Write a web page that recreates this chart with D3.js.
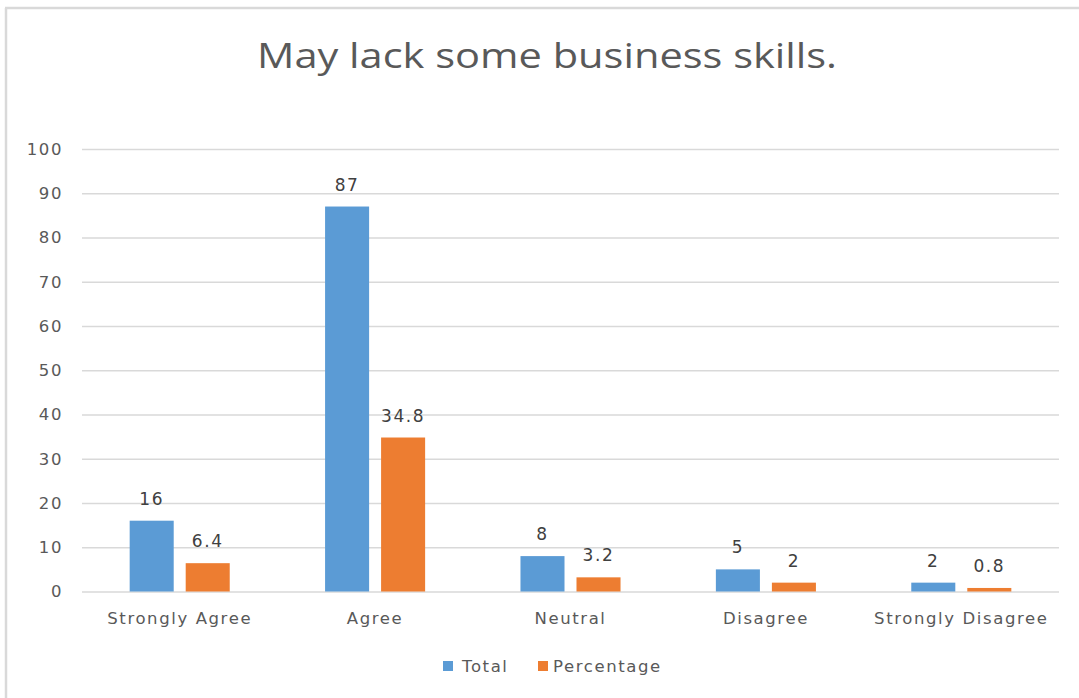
<!DOCTYPE html>
<html>
<head>
<meta charset="utf-8">
<script src="https://cdn.jsdelivr.net/npm/d3@7/dist/d3.min.js"></script>
<style>
  html, body { margin: 0; padding: 0; background: #fff; }
  svg { display: block; }
  text.lbl { font-family: "DejaVu Sans", "Noto Sans", sans-serif; letter-spacing: 1.6px; }
</style>
</head>
<body>
<svg id="chart" width="1079" height="698"></svg>
<script>
// Survey responses: "May lack some business skills."
const categories = ["Strongly Agree", "Agree", "Neutral", "Disagree", "Strongly Disagree"];
const seriesNames = ["Total", "Percentage"];
const totalValues = [16, 87, 8, 5, 2];
const percentValues = [6.4, 34.8, 3.2, 2, 0.8];
const yTicks = [0, 10, 20, 30, 40, 50, 60, 70, 80, 90, 100];
const titleText = "May lack some business skills.";

const colors = { Total: "#5B9BD5", Percentage: "#ED7D31" };
const valuesBySeries = { Total: totalValues, Percentage: percentValues };

const svg = d3.select("#chart");
const W = 1079, H = 698;

// Chart frame (left and top edges visible)
svg.append("rect").attr("x", 0).attr("y", 0).attr("width", W).attr("height", H).attr("fill", "#fff");
svg.append("line").attr("x1", 6).attr("x2", 6).attr("y1", 8).attr("y2", H)
  .attr("stroke", "#D9D9D9").attr("stroke-width", 2.5);
svg.append("line").attr("x1", 5).attr("x2", W).attr("y1", 8).attr("y2", 8)
  .attr("stroke", "#D9D9D9").attr("stroke-width", 2.5);

const plot = { left: 82, right: 1059, top: 149, bottom: 591.5 };

const x = d3.scaleBand().domain(categories).range([plot.left, plot.right]).paddingInner(0).paddingOuter(0);
const xs = d3.scaleBand().domain(seriesNames).range([0, x.bandwidth()]).paddingInner(0.214).paddingOuter(0.851);
const y = d3.scaleLinear().domain([0, 100]).range([plot.bottom, plot.top]);

// Title
svg.append("text")
  .attr("x", 547).attr("y", 68)
  .attr("text-anchor", "middle")
  .attr("font-size", 35)
  .attr("fill", "#595959")
  .style("font-family", "'Open Sans', 'Noto Sans', sans-serif")
  .attr("textLength", 580)
  .attr("lengthAdjust", "spacingAndGlyphs")
  .text(titleText);

// Horizontal gridlines and y tick labels
const yAxis = d3.axisLeft(y).tickValues(yTicks).tickSize(-(plot.right - plot.left)).tickPadding(19);
const gy = svg.append("g").attr("transform", `translate(${plot.left},0)`).call(yAxis);
gy.select(".domain").remove();
gy.selectAll(".tick line").attr("stroke", "#D9D9D9").attr("stroke-width", 1.5);
gy.selectAll(".tick text")
  .attr("class", "lbl")
  .attr("font-size", 16.5).attr("fill", "#595959")
  .style("font-family", "'DejaVu Sans', 'Noto Sans', sans-serif");

// Category axis labels
const xAxis = d3.axisBottom(x).tickSize(0).tickPadding(21);
const gx = svg.append("g").attr("transform", `translate(0,${plot.bottom})`).call(xAxis);
gx.select(".domain").remove();
gx.selectAll(".tick text")
  .attr("class", "lbl")
  .attr("font-size", 16.5).attr("fill", "#595959")
  .style("font-family", "'DejaVu Sans', 'Noto Sans', sans-serif");

// Bars
const rows = categories.map((c, i) => ({
  category: c,
  values: seriesNames.map(s => ({ series: s, value: valuesBySeries[s][i] }))
}));

const groups = svg.append("g").selectAll("g").data(rows).join("g")
  .attr("transform", d => `translate(${x(d.category)},0)`);

groups.selectAll("rect").data(d => d.values).join("rect")
  .attr("x", d => xs(d.series))
  .attr("width", xs.bandwidth())
  .attr("y", d => y(d.value))
  .attr("height", d => y(0) - y(d.value))
  .attr("fill", d => colors[d.series]);

// Value labels above bars
groups.selectAll("text.lbl").data(d => d.values).join("text")
  .attr("class", "lbl")
  .attr("x", d => xs(d.series) + xs.bandwidth() / 2)
  .attr("y", d => y(d.value) - 16)
  .attr("text-anchor", "middle")
  .attr("font-size", 17)
  .attr("fill", "#404040")
  .text(d => d.value);

// Legend
const legend = svg.append("g");
const legendItems = [
  { name: "Total", sx: 443, tx: 462 },
  { name: "Percentage", sx: 538, tx: 553 }
];
legendItems.forEach(it => {
  legend.append("rect").attr("x", it.sx).attr("y", 661).attr("width", 10).attr("height", 10)
    .attr("fill", colors[it.name]);
  legend.append("text").attr("class", "lbl").attr("x", it.tx).attr("y", 672)
    .attr("font-size", 16.5).attr("fill", "#595959").text(it.name);
});
</script>
</body>
</html>
